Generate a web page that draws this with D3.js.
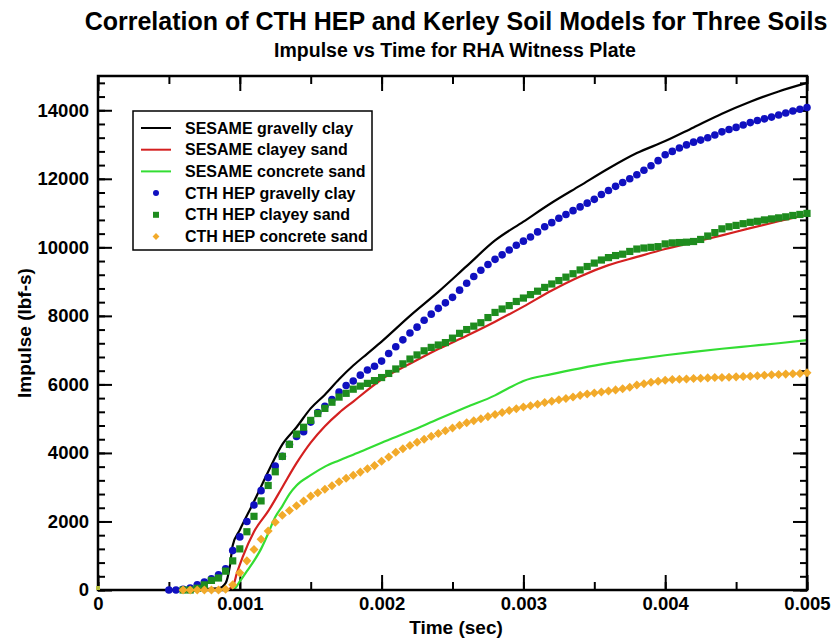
<!DOCTYPE html>
<html>
<head>
<meta charset="utf-8">
<script src="https://cdn.jsdelivr.net/npm/d3@7"></script>
<style>
  body { margin: 0; background: #fff; }
  text { font-family: "Liberation Sans", Arial, sans-serif; font-weight: bold; }
</style>
</head>
<body>
<div id="chart"></div>
<script>
// times in milliseconds, impulse in lbf-s

// SESAME curves (solid lines)
var sesameGravellyClay = [[0,0],[0.5,0],[0.85,50],[0.9,200],[0.93,700],[0.95,1300],[1.0,1750],[1.1,2580],
  [1.2,3450],[1.3,4250],[1.4,4750],[1.5,5300],[1.6,5700],[1.7,6150],[1.8,6550],[1.9,6900],[2.0,7250],
  [2.2,8000],[2.4,8700],[2.6,9450],[2.8,10200],[3.0,10750],[3.2,11300],[3.4,11800],[3.6,12300],
  [3.8,12750],[4.0,13100],[4.2,13500],[4.4,13900],[4.6,14250],[4.8,14550],[5.0,14800]];

var sesameClayeySand = [[0,0],[0.9,0],[0.95,100],[0.98,500],[1.02,960],[1.1,1700],[1.2,2300],[1.3,3000],
  [1.4,3700],[1.5,4300],[1.6,4780],[1.7,5170],[1.8,5500],[1.9,5830],[2.0,6150],[2.2,6600],[2.4,7030],
  [2.6,7420],[2.8,7830],[3.0,8270],[3.2,8740],[3.4,9150],[3.6,9480],[3.8,9720],[4.0,9950],[4.2,10150],
  [4.4,10350],[4.6,10560],[4.8,10760],[5.0,10950]];

var sesameConcreteSand = [[0,0],[0.95,0],[1.0,250],[1.05,550],[1.1,850],[1.15,1200],[1.2,1650],[1.25,2130],
  [1.3,2450],[1.35,2800],[1.4,3050],[1.5,3350],[1.6,3600],[1.7,3780],[1.8,3950],[1.9,4120],[2.0,4300],
  [2.2,4630],[2.4,4990],[2.6,5340],[2.8,5680],[2.9,5900],[3.0,6100],[3.2,6300],[3.4,6470],[3.6,6620],
  [3.8,6740],[4.0,6850],[4.2,6950],[4.4,7040],[4.6,7120],[4.8,7200],[5.0,7290]];

// CTH HEP output times (markers)
var hepTimes = [0.50,0.55,0.60,0.65,0.70,0.75,0.80,0.85,0.90,0.95,
  1.00,1.05,1.10,1.15,1.20,1.25,1.30,1.35,1.40,1.45,1.50,1.55,1.60,1.65,1.70,1.75,1.80,1.85,1.90,1.95,
  2.00,2.05,2.10,2.15,2.20,2.25,2.30,2.35,2.40,2.45,2.50,2.55,2.60,2.65,2.70,2.75,2.80,2.85,2.90,2.95,
  3.00,3.05,3.10,3.15,3.20,3.25,3.30,3.35,3.40,3.45,3.50,3.55,3.60,3.65,3.70,3.75,3.80,3.85,3.90,3.95,
  4.00,4.05,4.10,4.15,4.20,4.25,4.30,4.35,4.40,4.45,4.50,4.55,4.60,4.65,4.70,4.75,4.80,4.85,4.90,4.95,
  5.00];

var hepGravellyClay = [0,0,20,60,150,230,330,440,620,1150,
  1550,2000,2480,2900,3280,3620,3900,4250,4480,4620,4900,5180,5360,5560,5780,5970,6100,6270,6420,6530,
  6680,6900,7100,7300,7500,7670,7870,8050,8220,8380,8540,8750,8950,9150,9330,9500,9650,9780,9920,10060,
  10180,10300,10450,10600,10720,10850,10960,11070,11180,11290,11400,11540,11660,11780,11890,12000,12120,12250,12380,12530,
  12700,12800,12900,12990,13070,13130,13200,13280,13370,13440,13500,13570,13640,13700,13750,13800,13860,13920,13980,14030,
  14080];

// clayey / concrete sand HEP runs start at 0.60 ms
var hepClayeySand = [0,0,50,150,280,350,550,850,
  1200,1700,2150,2600,3050,3450,3900,4250,4550,4750,4950,5150,5300,5480,5630,5740,5860,5950,6030,6110,
  6200,6320,6450,6600,6740,6860,6980,7080,7150,7220,7350,7490,7600,7700,7800,7950,8100,8200,8300,8420,
  8520,8620,8720,8830,8930,9030,9130,9230,9340,9440,9540,9630,9700,9760,9800,9880,9950,9980,10000,10020,
  10100,10130,10140,10150,10170,10230,10330,10430,10540,10600,10640,10690,10730,10760,10800,10830,10860,10890,10930,10960,
  10990];

var hepConcreteSand = [0,0,0,0,0,0,20,150,
  500,850,1180,1480,1720,1980,2180,2320,2460,2600,2740,2840,2940,3040,3160,3260,3350,3440,3540,3630,
  3760,3880,4020,4120,4220,4310,4400,4490,4570,4650,4730,4810,4880,4940,5000,5060,5120,5180,5240,5290,
  5340,5380,5420,5470,5510,5550,5590,5630,5680,5720,5750,5780,5810,5840,5870,5920,5980,6020,6060,6090,
  6120,6140,6150,6160,6170,6180,6190,6200,6200,6210,6220,6230,6240,6250,6270,6280,6290,6300,6310,6320,
  6340];

var xTicks = [0, 0.001, 0.002, 0.003, 0.004, 0.005];
var xTickLabels = ["0", "0.001", "0.002", "0.003", "0.004", "0.005"];
var yTicks = [0, 2000, 4000, 6000, 8000, 10000, 12000, 14000];

var legendNames = ["SESAME gravelly clay", "SESAME clayey sand", "SESAME concrete sand",
  "CTH HEP gravelly clay", "CTH HEP clayey sand", "CTH HEP concrete sand"];

var W = 834, H = 640;
var pLeft = 98, pRight = 807, pTop = 76, pBottom = 590;

var svg = d3.select("#chart").append("svg")
  .attr("width", W)
  .attr("height", H);

var x = d3.scaleLinear().domain([0, 0.005]).range([pLeft, pRight]);
var y = d3.scaleLinear().domain([0, 15000]).range([pBottom, pTop]);

// ms -> sec
function pts(arr) { return arr.map(function(d) { return [d[0] / 1000, d[1]]; }); }
function hep(times, vals) { return vals.map(function(v, i) { return [times[i] / 1000, v]; }); }

var sandTimes = hepTimes.slice(2);

// ticks, inward on all sides
var xMinor = d3.range(0, 0.00501, 0.0005);
var yMinor = d3.range(0, 15001, 400);

function bare(g, axis) { g.call(axis); g.select(".domain").remove(); g.selectAll("text").remove(); }

svg.append("g").attr("transform", "translate(0," + pBottom + ")")
  .call(bare, d3.axisBottom(x).tickValues(xMinor).tickSize(-8));
svg.append("g").attr("transform", "translate(0," + pTop + ")")
  .call(bare, d3.axisTop(x).tickValues(xMinor).tickSize(-8));
svg.append("g").attr("transform", "translate(0," + pTop + ")")
  .call(bare, d3.axisTop(x).tickValues(xTicks).tickSize(-15));
svg.append("g").attr("transform", "translate(" + pLeft + ",0)")
  .call(bare, d3.axisLeft(y).tickValues(yMinor).tickSize(-7));
svg.append("g").attr("transform", "translate(" + pRight + ",0)")
  .call(bare, d3.axisRight(y).tickValues(yMinor).tickSize(-7));
svg.append("g").attr("transform", "translate(" + pRight + ",0)")
  .call(bare, d3.axisRight(y).tickValues(yTicks).tickSize(-14));

var gx = svg.append("g").attr("transform", "translate(0," + pBottom + ")")
  .call(d3.axisBottom(x).tickValues(xTicks).tickSize(-15).tickPadding(7)
    .tickFormat(function(d, i) { return xTickLabels[i]; }));
var gy = svg.append("g").attr("transform", "translate(" + pLeft + ",0)")
  .call(d3.axisLeft(y).tickValues(yTicks).tickSize(-14).tickPadding(9).tickFormat(d3.format("d")));
[gx, gy].forEach(function(g) {
  g.select(".domain").remove();
  g.selectAll("text").style("font-size", "18.5px").style("fill", "#000");
});

svg.selectAll(".tick line").attr("stroke", "#000").attr("stroke-width", 2);

var line = d3.line()
  .curve(d3.curveMonotoneX)
  .x(function(d) { return x(d[0]); })
  .y(function(d) { return y(d[1]); });

var lineSeries = [
  { data: pts(sesameGravellyClay), color: "#000000" },
  { data: pts(sesameClayeySand), color: "#d42020" },
  { data: pts(sesameConcreteSand), color: "#33dd33" }
];

lineSeries.forEach(function(s) {
  svg.append("path").datum(s.data)
    .attr("d", line)
    .attr("fill", "none")
    .attr("stroke", s.color)
    .attr("stroke-width", 2.2);
});

// frame over the lines, under the markers
svg.append("rect")
  .attr("x", pLeft).attr("y", pTop)
  .attr("width", pRight - pLeft).attr("height", pBottom - pTop)
  .attr("fill", "none").attr("stroke", "#000").attr("stroke-width", 2.5);

var blue = "#1010c0", dkgreen = "#1e8c1e", orange = "#f2aa2a";

svg.append("g").selectAll("circle")
  .data(hep(hepTimes, hepGravellyClay))
  .enter().append("circle")
  .attr("cx", function(d) { return x(d[0]); })
  .attr("cy", function(d) { return y(d[1]); })
  .attr("r", 3.8)
  .attr("fill", blue);

svg.append("g").selectAll("rect")
  .data(hep(sandTimes, hepClayeySand))
  .enter().append("rect")
  .attr("x", function(d) { return x(d[0]) - 3.6; })
  .attr("y", function(d) { return y(d[1]) - 3.6; })
  .attr("width", 7.2).attr("height", 7.2)
  .attr("fill", dkgreen);

var diamond = d3.symbol().type(d3.symbolDiamond2).size(52);
svg.append("g").selectAll("path")
  .data(hep(sandTimes, hepConcreteSand))
  .enter().append("path")
  .attr("d", diamond)
  .attr("transform", function(d) { return "translate(" + x(d[0]) + "," + y(d[1]) + ")"; })
  .attr("fill", orange);

// small point at the origin
svg.append("rect").attr("x", x(0) - 2).attr("y", y(0) - 4).attr("width", 4).attr("height", 4).attr("fill", "#b8c040");

// legend
var lg = svg.append("g").attr("transform", "translate(133,111)");
lg.append("rect").attr("width", 239).attr("height", 139)
  .attr("fill", "#fff").attr("stroke", "#000").attr("stroke-width", 1.5);

var legendColors = ["#000000", "#d42020", "#33dd33", blue, dkgreen, orange];
legendNames.forEach(function(name, i) {
  var yy = 17 + i * 21.7;
  if (i < 3) {
    lg.append("line").attr("x1", 8).attr("x2", 38).attr("y1", yy).attr("y2", yy)
      .attr("stroke", legendColors[i]).attr("stroke-width", 2);
  } else if (i == 3) {
    lg.append("circle").attr("cx", 23).attr("cy", yy).attr("r", 3).attr("fill", blue);
  } else if (i == 4) {
    lg.append("rect").attr("x", 20).attr("y", yy - 3).attr("width", 6).attr("height", 6).attr("fill", dkgreen);
  } else {
    lg.append("path").attr("d", d3.symbol().type(d3.symbolDiamond2).size(30))
      .attr("transform", "translate(23," + yy + ")").attr("fill", orange);
  }
  lg.append("text").attr("x", 52).attr("y", yy + 5.5)
    .style("font-size", "16px").text(name);
});

// titles
svg.append("text").attr("x", 456).attr("y", 30).attr("text-anchor", "middle")
  .style("font-size", "25px").text("Correlation of CTH HEP and Kerley Soil Models for Three Soils");
svg.append("text").attr("x", 455).attr("y", 57).attr("text-anchor", "middle")
  .style("font-size", "19.5px").text("Impulse vs Time for RHA Witness Plate");
svg.append("text").attr("x", 456).attr("y", 634).attr("text-anchor", "middle")
  .style("font-size", "19px").text("Time (sec)");
svg.append("text").attr("transform", "translate(31,333) rotate(-90)").attr("text-anchor", "middle")
  .style("font-size", "19px").text("Impulse (lbf-s)");
</script>
</body>
</html>
